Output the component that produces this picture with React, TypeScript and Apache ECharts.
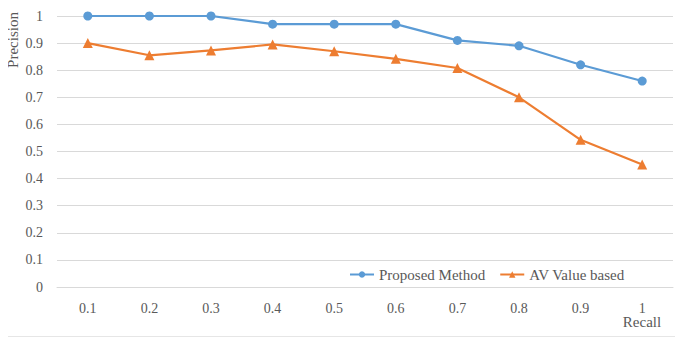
import React, { useEffect, useRef } from "react";
import * as echarts from "echarts";

const recallLevels = ["0.1", "0.2", "0.3", "0.4", "0.5", "0.6", "0.7", "0.8", "0.9", "1"];
const proposedMethod = [1, 1, 1, 0.97, 0.97, 0.97, 0.91, 0.89, 0.82, 0.76];
const avValueBased = [0.9, 0.855, 0.873, 0.895, 0.87, 0.842, 0.808, 0.7, 0.543, 0.452];

const FONT = "Liberation Serif";
const TEXT_COLOR = "#595959";
const GRID_COLOR = "#d9d9d9";

export default function App() {
  const ref = useRef<HTMLDivElement>(null);

  useEffect(() => {
    if (!ref.current) return;
    const chart = echarts.init(ref.current, undefined, { renderer: "svg" });
    chart.setOption({
      animation: false,
      backgroundColor: "#ffffff",
      textStyle: { fontFamily: FONT },
      grid: { left: 57, right: 10, top: 16, bottom: 71 },
      legend: {
        left: 344,
        top: 262,
        itemWidth: 24,
        itemHeight: 8,
        itemGap: 14,
        textStyle: { fontFamily: FONT, fontSize: 15, color: TEXT_COLOR },
        data: ["Proposed Method", "AV Value based"],
      },
      xAxis: {
        type: "category",
        data: recallLevels,
        boundaryGap: true,
        axisLine: { lineStyle: { color: GRID_COLOR, width: 1 } },
        axisTick: { show: false },
        axisLabel: { fontFamily: FONT, fontSize: 14, color: TEXT_COLOR, margin: 14 },
      },
      yAxis: {
        type: "value",
        min: 0,
        max: 1,
        interval: 0.1,
        axisLine: { show: false },
        axisTick: { show: false },
        splitLine: { lineStyle: { color: GRID_COLOR, width: 1 } },
        axisLabel: { fontFamily: FONT, fontSize: 14, color: TEXT_COLOR, margin: 14 },
      },
      graphic: [
        {
          type: "rect",
          shape: { x: 1.5, y: 1.5, width: 678, height: 335 },
          style: { fill: "none", stroke: "#e6e6e6", lineWidth: 1 },
          z: -1,
        },
        {
          type: "text",
          x: 13,
          y: 40,
          rotation: Math.PI / 2,
          style: {
            text: "Precision",
            fontFamily: FONT,
            fontSize: 15,
            fill: TEXT_COLOR,
            align: "center",
            verticalAlign: "middle",
          },
        },
        {
          type: "text",
          x: 642,
          y: 322,
          style: {
            text: "Recall",
            fontFamily: FONT,
            fontSize: 15,
            fill: TEXT_COLOR,
            align: "center",
            verticalAlign: "middle",
          },
        },
      ],
      series: [
        {
          name: "Proposed Method",
          type: "line",
          data: proposedMethod,
          symbol: "circle",
          symbolSize: 9,
          itemStyle: { color: "#5b9bd5" },
          lineStyle: { color: "#5b9bd5", width: 2.2 },
        },
        {
          name: "AV Value based",
          type: "line",
          data: avValueBased,
          symbol: "triangle",
          symbolSize: 10,
          itemStyle: { color: "#ed7d31" },
          lineStyle: { color: "#ed7d31", width: 2.2 },
        },
      ],
    });
    return () => chart.dispose();
  }, []);

  return <div ref={ref} style={{ width: 683, height: 358, margin: -8 }} />;
}
